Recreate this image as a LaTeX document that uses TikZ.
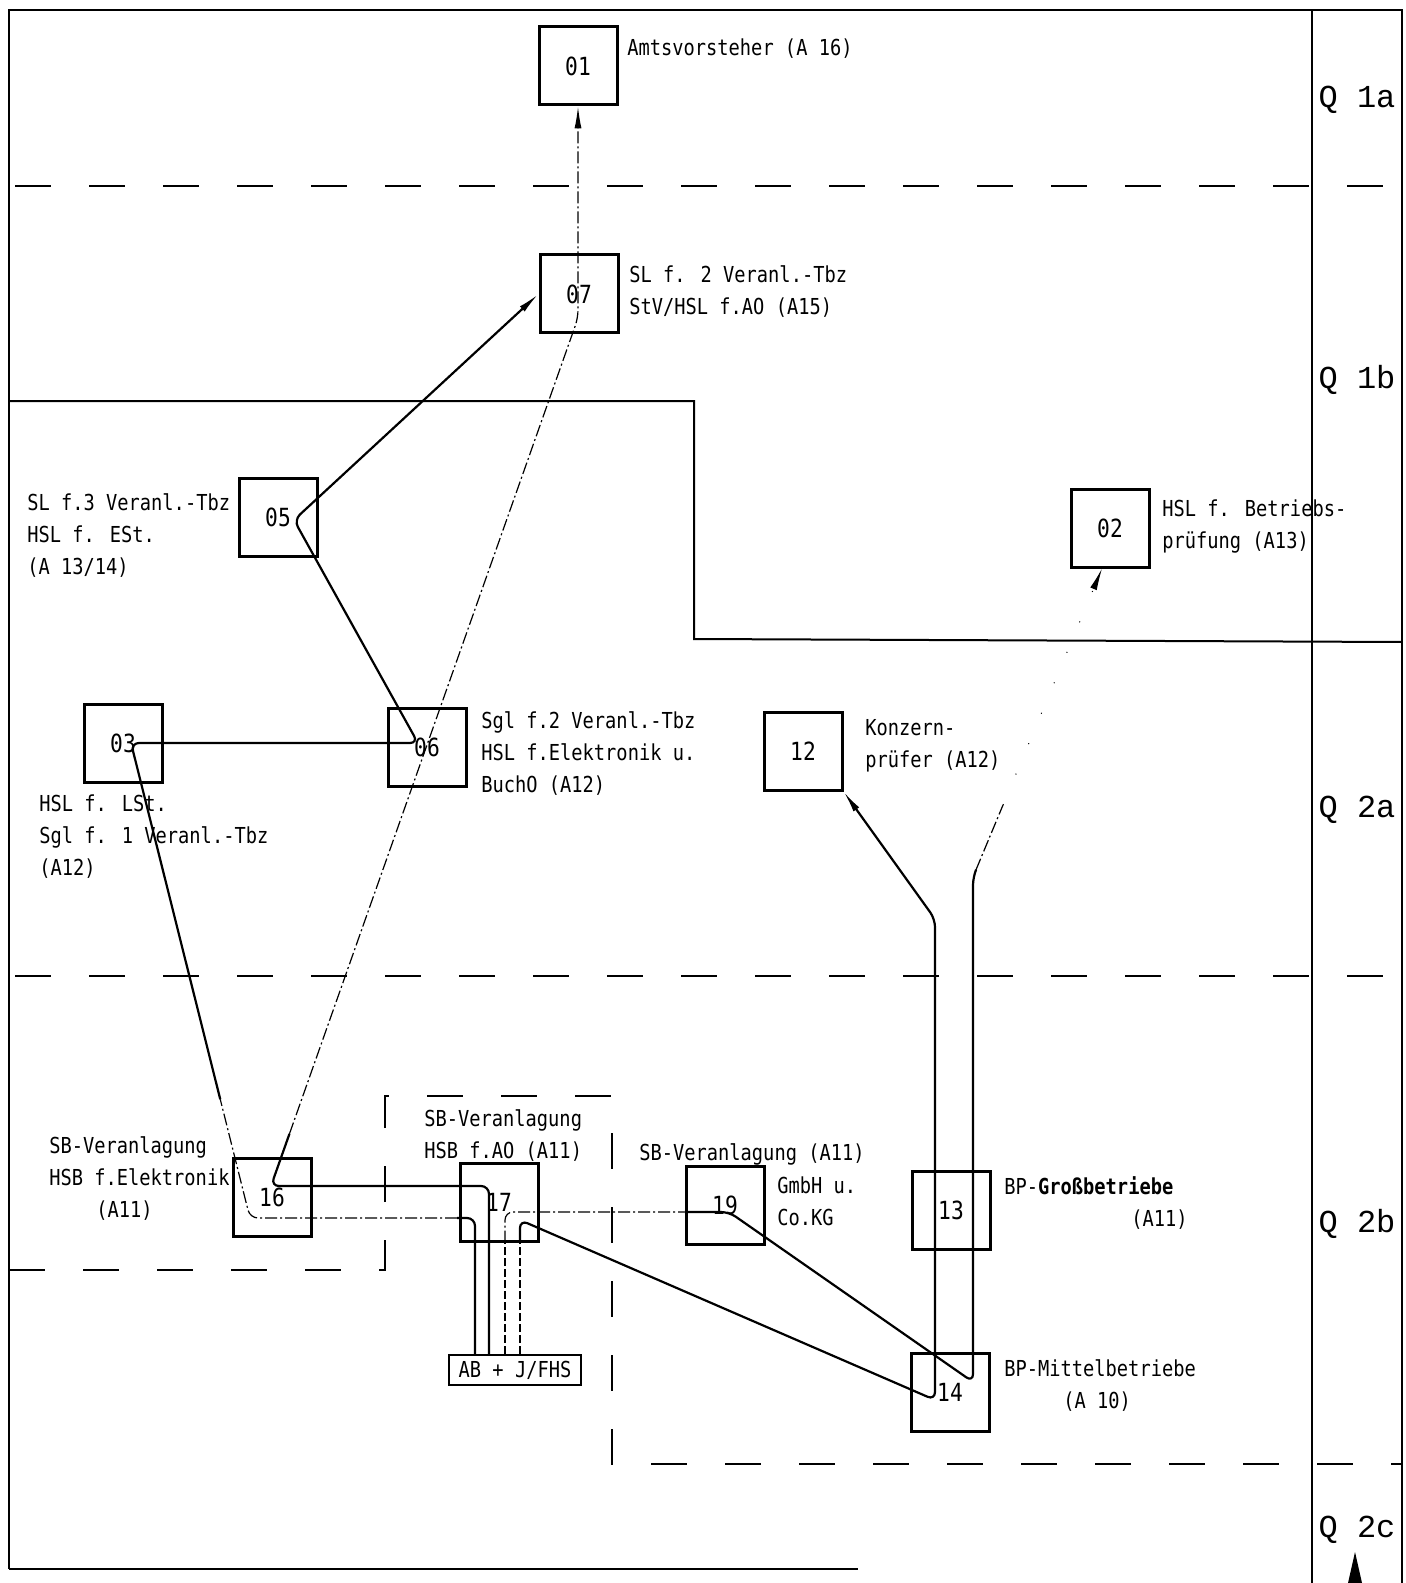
\documentclass[tikz,border=0pt]{standalone}
\usepackage{fontspec}
\usepackage{tikz}
\usetikzlibrary{arrows.meta,calc}
\newfontfamily\drucker[FakeStretch=0.85]{DejaVu Sans Mono}
\newfontfamily\randschrift{Liberation Mono}

\begin{document}
\begin{tikzpicture}[x=0.5pt,y=-0.5pt,
  amt/.style={draw,line width=1.5pt,minimum width=39pt,minimum height=39pt,inner sep=0pt,
    font=\drucker\fontsize{12.5pt}{16pt}\selectfont},
  txt/.style={anchor=north west,align=left,inner sep=0pt,
    font=\drucker\fontsize{11pt}{16pt}\selectfont},
  qtxt/.style={font=\randschrift\fontsize{16pt}{18pt}\selectfont},
  rahmen/.style={line width=1pt},
  grenze/.style={line width=1pt,dash pattern=on 18pt off 19pt},
  leitung/.style={line width=1.1pt,rounded corners=4pt},
  strichpunkt/.style={line width=0.6pt,dash pattern=on 6pt off 1.5pt on 1pt off 1.5pt,rounded corners=4pt},
  gestrichelt/.style={line width=0.9pt,dash pattern=on 4pt off 1.5pt},
  punktiert/.style={line width=0.5pt,dash pattern=on 0.5pt off 16pt},
  spitze/.style={-{Latex[length=11pt,width=3.5pt]}}
]
\useasboundingbox (0,0) rectangle (1405,1583);

% Frame
\draw[rahmen] (9,1569) -- (9,10) -- (1402,10) -- (1402,1583);
\draw[rahmen] (9,1569) -- (858,1569);
\draw[line width=0.8pt] (1312,10) -- (1312,1583);
\fill (1348,1583) -- (1355,1552) -- (1362,1583) -- cycle;

% Levels
\draw[grenze] (15,186) -- (1402,186);
\draw[rahmen] (9,401) -- (694,401) -- (694,639) -- (1402,642);
\draw[grenze] (15,976) -- (1402,976);
\draw[grenze] (9,1270) -- (385,1270) -- (385,1096) -- (612,1096) -- (612,1464) -- (1402,1464);
\foreach \q/\y in {1a/100,1b/380,2a/810,2b/1224,2c/1530}
    \node[qtxt] (q\q) at (1357,\y) {Q \q};

% Boxes
\node[amt] (n01) at (578,66) {01};
\node[amt] (n07) at (579,294) {07};
\node[amt] (n05) at (278,517) {05};
\node[amt] (n02) at (1110,528) {02};
\node[amt] (n03) at (123,743) {03};
\node[amt] (n06) at (427,747) {06};
\node[amt] (n12) at (803,751) {12};
\node[amt] (n16) at (272,1197) {16};
\node[amt] (n17) at (499,1202) {17};
\node[amt] (n19) at (725,1205) {19};
\node[amt] (n13) at (951,1210) {13};
\node[amt] (n14) at (950,1392) {14};
\node[draw,line width=1pt,minimum width=66pt,minimum height=15pt,inner sep=0pt,
    font=\drucker\fontsize{11pt}{16pt}\selectfont] (nab) at (515,1370) {AB + J/FHS};

% Texts
\node[txt] (t01) at (627,38) {Amtsvorsteher (A 16)};
\node[txt] (t07) at (629,265) {SL f. 2 Veranl.-Tbz\\StV/HSL f.AO (A15)};
\node[txt] (t05) at (27,493) {SL f.3 Veranl.-Tbz\\HSL f. ESt.\\(A 13/14)};
\node[txt] (t02) at (1162,499) {HSL f. Betriebs-\\prüfung (A13)};
\node[txt] (t03) at (39,794) {HSL f. LSt.\\Sgl f. 1 Veranl.-Tbz\\(A12)};
\node[txt] (t06) at (481,711) {Sgl f.2 Veranl.-Tbz\\HSL f.Elektronik u.\\BuchO (A12)};
\node[txt] (t12) at (865,719) {Konzern-\\prüfer (A12)};
\node[txt] (t16) at (49,1136) {SB-Veranlagung\\HSB f.Elektronik\\\hspace*{23.5pt}(A11)};
\node[txt] (t17) at (424,1109) {SB-Veranlagung\\HSB f.AO (A11)};
\node[txt] (t19a) at (639,1143) {SB-Veranlagung (A11)};
\node[txt] (t19b) at (777,1176) {GmbH u.\\Co.KG};
\node[txt] (t13) at (1004,1176) {BP-\textbf{Großbetriebe}\\\hspace*{63.5pt}(A11)};
\node[txt] (t14) at (1004,1359) {BP-Mittelbetriebe\\\hspace*{29.5pt}(A 10)};

% Path 1: AB -> 17 -> 16 -> 03 -> 06 -> 05 -> 07
\coordinate (w1a) at (475,1218);
\coordinate (w1b) at (250,1218);
\coordinate (w1c) at (131,743);
\coordinate (w1d) at (418,743);
\coordinate (w1e) at (294,520);
\draw[leitung] (w1a |- nab.north) -- (w1a) -- ($(w1a)!0.08!(w1b)$);
\draw[strichpunkt] ($(w1a)!0.08!(w1b)$) -- (w1b) -- ($(w1b)!0.25!(w1c)$);
\draw[leitung,spitze] ($(w1b)!0.25!(w1c)$) -- (w1c) -- (w1d) -- (w1e) -- (n07.west);

% Path 2: AB -> 17 -> 16 -> 06 -> 07 -> 01
\coordinate (w2a) at (489,1186);
\coordinate (w2b) at (271,1186);
\coordinate (w2c) at (578,318);
\draw[leitung] (w2a |- nab.north) -- (w2a) -- (w2b) -- ($(w2b)!0.06!(w2c)$);
\draw[strichpunkt,spitze] ($(w2b)!0.06!(w2c)$) -- (w2c) -- (n01.south);

% Path 3: AB -> 17 -> 14 -> 13 -> 12
\coordinate (w3a) at (520,1220);
\coordinate (w3b) at (935,1400);
\coordinate (w3c) at (935,919);
\draw[gestrichelt] (w3a |- nab.north) -- (w3a |- n17.south);
\draw[leitung,spitze] (w3a |- n17.south) -- (w3a) -- (w3b) -- (w3c) -- (n12.south east);

% Path 4: AB -> 17 -> 19 -> 14 -> 13 -> 02
\coordinate (w4a) at (505,1212);
\coordinate (w4b) at (729,1212);
\coordinate (w4c) at (973,1382);
\coordinate (w4d) at (973,877);
\coordinate (w4e) at (1003,805);
\draw[gestrichelt] (w4a |- nab.north) -- (w4a |- n17.south);
\draw[strichpunkt] (w4a |- n17.south) -- (w4a) -- (w4a -| n19.west);
\draw[leitung] (w4a -| n19.west) -- (w4b) -- (w4c) -- (w4d) -- ($(w4d)!0.1!(w4e)$);
\draw[strichpunkt] ($(w4d)!0.1!(w4e)$) -- (w4e);
\draw[punktiert,spitze] (w4e) -- ($(n02.south)+(-8,0)$);
\end{tikzpicture}
\end{document}
